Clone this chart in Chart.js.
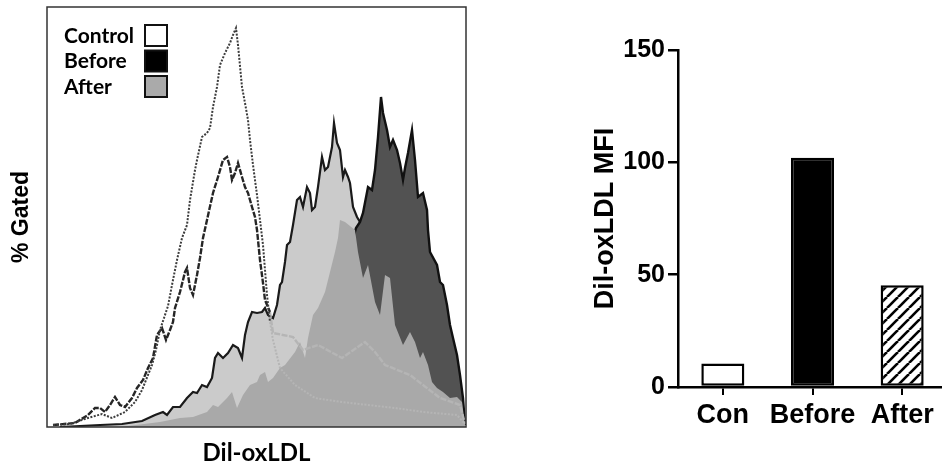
<!DOCTYPE html>
<html>
<head>
<meta charset="utf-8">
<script src="https://cdn.jsdelivr.net/npm/chart.js@4.4.1/dist/chart.umd.min.js"></script>
<style>
  html, body { margin: 0; padding: 0; background: #fff; overflow: hidden; }
  body { width: 942px; height: 468px; position: relative; }
  #histWrap { position: absolute; left: 0; top: 0; width: 480px; height: 468px; }
  #barWrap { position: absolute; left: 480px; top: 0; width: 467px; height: 468px; }
</style>
</head>
<body>
<div id="histWrap"><canvas id="histChart" width="480" height="468"></canvas></div>
<div id="barWrap"><canvas id="barChart" width="467" height="468"></canvas></div>
<script>
// histogram overlay: x = fluorescence channel, y = event count
const controlDotted = [
  [6,2],[23,3],[41,9],[55,13],[65,9],[78,15],[88,25],[95,37],[101,52],[105,62],[109,77],[113,97],
  [117,109],[121,121],[125,142],[130,167],[135,189],[140,202],[143,227],[148,257],[150,267],[155,290],
  [160,294],[163,299],[166,320],[170,340],[173,362],[178,374],[183,384],[186,392],[189,399],[191,382],
  [195,340],[198,324],[201,307],[203,287],[206,262],[210,232],[213,207],[216,182],[218,157],[220,132],
  [223,105],[226,87],[231,67],[233,59],[248,42],[268,29],[295,25],[321,22],[348,19],[376,15],[410,12],[418,3]
];
const controlDashed = [
  [6,2],[28,4],[41,12],[48,19],[53,19],[58,15],[63,22],[68,30],[73,22],[78,20],[85,29],[90,39],[96,47],
  [101,59],[106,69],[110,92],[115,99],[119,87],[123,97],[126,105],[128,119],[133,135],[138,155],[140,159],
  [143,139],[146,132],[150,152],[153,169],[156,189],[160,207],[166,234],[171,250],[176,267],[180,270],
  [183,260],[185,247],[188,254],[191,264],[195,250],[198,240],[201,234],[205,220],[208,210],[210,197],
  [213,167],[216,144],[218,127],[223,115],[226,94],[246,90],[256,77],[271,82],[295,69],[318,85],[328,75],
  [338,62],[363,52],[376,42],[393,29],[413,22],[418,3]
];
const beforeCounts = [
  [153,0],[213,7],[253,27],[283,97],[293,137],[303,177],[309,199],[313,205],[316,214],[321,240],[325,237],
  [328,257],[331,290],[334,330],[336,314],[340,297],[343,280],[346,287],[350,277],[353,264],[356,247],
  [358,259],[361,274],[365,297],[368,267],[371,230],[376,234],[380,217],[381,197],[383,175],[390,162],
  [393,145],[396,142],[400,122],[403,102],[406,89],[410,72],[413,52],[416,29],[418,2]
];
const afterCounts = [
  [13,0],[53,2],[75,3],[95,6],[108,12],[116,15],[120,12],[126,20],[133,20],[140,29],[146,35],[150,34],
  [155,42],[160,40],[165,49],[168,69],[171,74],[176,69],[181,74],[186,82],[191,79],[195,69],[198,92],
  [201,105],[205,115],[210,114],[215,115],[218,119],[221,112],[226,109],[230,122],[233,142],[235,145],
  [238,165],[240,182],[243,185],[246,202],[250,227],[253,230],[256,220],[260,240],[263,234],[265,217],
  [268,220],[271,240],[275,270],[278,257],[281,260],[285,280],[287,304],[290,284],[293,277],[296,250],
  [298,257],[301,250],[303,244],[306,220],[310,210],[313,205],[318,187],[333,157],[353,107],[383,57],[418,2]
];
const afterReplicate = [
  [73,0],[113,5],[133,9],[146,10],[160,15],[166,22],[171,20],[180,29],[185,35],[190,19],[196,32],[203,42],
  [210,45],[213,52],[218,55],[221,45],[226,49],[233,59],[238,62],[248,75],[253,85],[258,69],[261,89],
  [266,112],[271,119],[278,135],[283,155],[288,175],[291,189],[293,207],[298,205],[303,201],[308,197],
  [311,175],[316,149],[321,162],[328,125],[333,112],[338,152],[343,149],[348,102],[356,82],[363,95],
  [368,85],[373,69],[376,75],[381,62],[385,45],[390,39],[396,35],[403,29],[410,30],[415,25],[418,2]
];
const legendLabels = ['Control', 'Before', 'After'];

// bar chart
const groups = ['Con', 'Before', 'After'];
const mfiValues = [10.5, 102, 45.3];
const mfiTicks = [0, 50, 100, 150];

const toPoints = (arr) => arr.map(([x, y]) => ({ x, y }));

const calibriLike = 'Lato, "Open Sans", sans-serif';
const arialLike = '"Liberation Sans", Arial, sans-serif';

const fadeAfter = (limit, dark) => (ctx) => (ctx.p0.parsed.x >= limit ? '#b5b5b5' : dark);

const histFrame = {
  id: 'histFrame',
  afterDraw(chart) {
    const { ctx, chartArea } = chart;
    ctx.save();
    ctx.strokeStyle = '#333';
    ctx.lineWidth = 1.5;
    ctx.strokeRect(chartArea.left, chartArea.top, chartArea.right - chartArea.left, chartArea.bottom - chartArea.top);

    const swatches = ['#ffffff', '#000000', '#aaaaaa'];
    ctx.font = `bold 21px ${calibriLike}`;
    ctx.textBaseline = 'middle';
    ctx.textAlign = 'left';
    ctx.fillStyle = '#000';
    legendLabels.forEach((label, i) => {
      const y = 25 + i * 25.5;
      ctx.fillText(label, 64, y + 11);
      ctx.fillStyle = swatches[i];
      ctx.fillRect(145, y, 22, 21);
      ctx.lineWidth = 2;
      ctx.strokeStyle = '#111';
      ctx.strokeRect(145, y, 22, 21);
      ctx.fillStyle = '#000';
    });
    ctx.restore();
  },
};

new Chart(document.getElementById('histChart'), {
  type: 'line',
  data: {
    datasets: [
      {
        label: 'Control',
        data: toPoints(controlDotted),
        borderColor: '#3c3c3c',
        borderWidth: 2,
        borderDash: [2, 1.5],
        segment: { borderColor: fadeAfter(223, '#3c3c3c') },
        fill: false,
        order: 0,
      },
      {
        label: 'Control 2',
        data: toPoints(controlDashed),
        borderColor: '#262626',
        borderWidth: 2.4,
        borderDash: [6, 1.5],
        segment: { borderColor: fadeAfter(223, '#262626') },
        fill: false,
        order: 1,
      },
      {
        label: 'After 2',
        data: toPoints(afterReplicate),
        borderWidth: 0,
        borderColor: 'rgba(0,0,0,0)',
        backgroundColor: '#a9a9a9',
        fill: 'origin',
        order: 2,
      },
      {
        label: 'Before',
        data: toPoints(beforeCounts),
        borderColor: '#111',
        borderWidth: 2.4,
        backgroundColor: '#525252',
        fill: 'origin',
        order: 3,
      },
      {
        label: 'After',
        data: toPoints(afterCounts),
        borderColor: '#1a1a1a',
        borderWidth: 2.2,
        backgroundColor: '#cbcbcb',
        fill: 'origin',
        order: 4,
      },
    ],
  },
  options: {
    responsive: false,
    animation: false,
    events: [],
    elements: { point: { radius: 0 }, line: { tension: 0 } },
    layout: { padding: { top: 7, right: 14, left: 0, bottom: 0 } },
    plugins: { legend: { display: false }, tooltip: { enabled: false } },
    scales: {
      x: {
        type: 'linear',
        min: 0,
        max: 419,
        ticks: { display: false },
        grid: { display: false },
        border: { display: false },
        title: {
          display: true,
          text: 'Dil-oxLDL',
          color: '#000',
          font: { family: calibriLike, size: 24, weight: 'bold' },
          padding: { top: 2.5, bottom: 0 },
        },
        afterFit: (scale) => { scale.height = 41; },
      },
      y: {
        min: 0,
        max: 420,
        ticks: { display: false },
        grid: { display: false },
        border: { display: false },
        title: {
          display: true,
          text: '% Gated',
          color: '#000',
          font: { family: arialLike, size: 23, weight: 'bold' },
          padding: { top: 8, bottom: 0 },
        },
        afterFit: (scale) => { scale.width = 47; },
      },
    },
  },
  plugins: [histFrame],
});

const makeHatch = () => {
  const c = document.createElement('canvas');
  c.width = 11;
  c.height = 11;
  const g = c.getContext('2d');
  g.fillStyle = '#fff';
  g.fillRect(0, 0, 11, 11);
  g.strokeStyle = '#000';
  g.lineWidth = 2.6;
  [-11, 0, 11].forEach((o) => {
    g.beginPath();
    g.moveTo(o, 11);
    g.lineTo(o + 11, 0);
    g.stroke();
  });
  return g.createPattern(c, 'repeat');
};

new Chart(document.getElementById('barChart'), {
  type: 'bar',
  data: {
    labels: groups,
    datasets: [
      {
        data: mfiValues,
        backgroundColor: ['#ffffff', '#000000', makeHatch()],
        borderColor: '#000',
        borderWidth: 2.5,
        borderSkipped: false,
        categoryPercentage: 1,
        barPercentage: 0.48,
      },
    ],
  },
  options: {
    responsive: false,
    animation: false,
    events: [],
    layout: { padding: { top: 50, right: 0, left: 0, bottom: 0 } },
    plugins: { legend: { display: false }, tooltip: { enabled: false } },
    scales: {
      x: {
        offset: true,
        grid: { display: true, offset: false, drawOnChartArea: false, tickLength: 8, color: '#000', lineWidth: 2 },
        border: { display: true, color: '#000', width: 2.5 },
        ticks: {
          color: '#000',
          padding: 4,
          maxRotation: 0,
          minRotation: 0,
          autoSkip: false,
          font: { family: arialLike, size: 27, weight: 'bold' },
        },
        afterFit: (scale) => { scale.height = 81; },
      },
      y: {
        min: 0,
        max: 150,
        afterBuildTicks: (scale) => { scale.ticks = mfiTicks.map((v) => ({ value: v })); },
        grid: { display: true, drawOnChartArea: false, tickLength: 10, color: '#000', lineWidth: 2.5 },
        border: { display: true, color: '#000', width: 2.5 },
        ticks: { color: '#000', padding: 3, font: { family: arialLike, size: 25, weight: 'bold' } },
        title: {
          display: true,
          text: 'Dil-oxLDL MFI',
          color: '#000',
          font: { family: arialLike, size: 27, weight: 'bold' },
          padding: { top: 109, bottom: 0 },
        },
        afterFit: (scale) => { scale.width = 198; },
      },
    },
  },
});
</script>
</body>
</html>
